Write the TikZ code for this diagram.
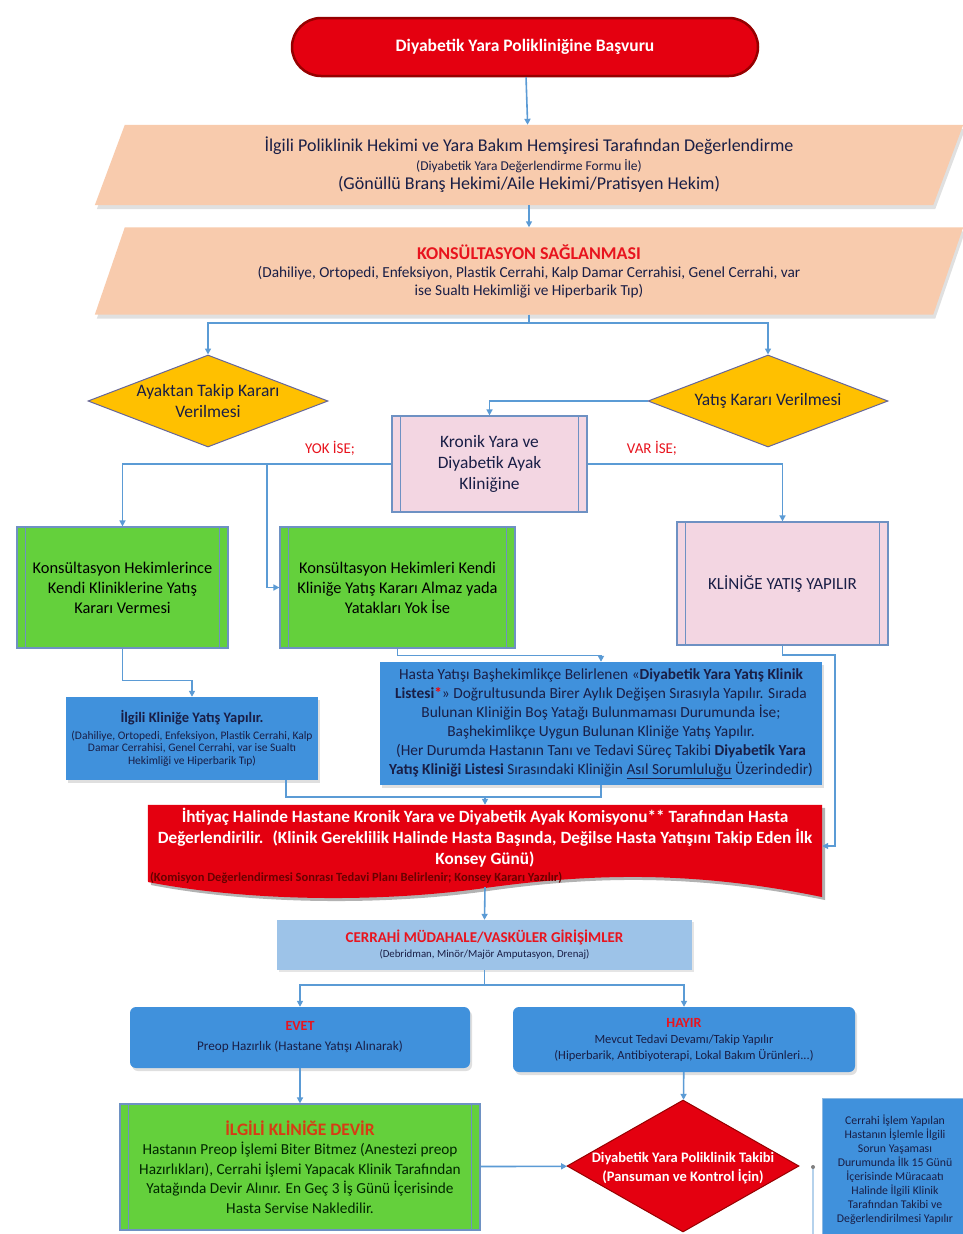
\documentclass[tikz,border=0pt]{standalone}
\usepackage{fontspec}
\setmainfont{Carlito}
\usetikzlibrary{arrows.meta,shapes.geometric,backgrounds,shadows}
\definecolor{lineblue}{RGB}{91,155,213}
\definecolor{peach}{RGB}{248,203,173}
\definecolor{redbox}{RGB}{228,0,16}
\definecolor{darkred}{RGB}{150,0,0}
\definecolor{deepred}{RGB}{105,0,0}
\definecolor{goldy}{RGB}{255,192,0}
\definecolor{pinky}{RGB}{243,214,226}
\definecolor{greeny}{RGB}{100,208,60}
\definecolor{bluey}{RGB}{64,145,220}
\definecolor{lightbluey}{RGB}{157,195,232}
\definecolor{navy}{RGB}{25,30,70}
\definecolor{titlered}{RGB}{232,20,30}
\definecolor{edgeblue}{RGB}{110,145,195}
\definecolor{oranget}{RGB}{215,60,20}

\begin{document}
\begin{tikzpicture}[x=1pt,y=-1pt,
  conn/.style={draw=lineblue, line width=1.6pt},
  arr/.style={conn, -{Triangle[length=6pt,width=6pt]}},
  startbox/.style={rectangle, rounded corners=29pt, draw=darkred, line width=2.5pt, fill=redbox, text=white,
    font=\fontsize{17.5}{20}\selectfont\bfseries, minimum width=466pt, minimum height=58pt},
  parabox/.style={rectangle, minimum width=868pt, inner sep=0pt, align=center, text=navy},
  diam/.style={diamond, draw=gray!80!blue, line width=1pt, fill=goldy, minimum width=240pt, minimum height=92pt, inner sep=0pt},
  dtext/.style={align=center, font=\fontsize{17.5}{21}\selectfont, text=navy},
  procbox/.style={rectangle, draw=edgeblue, line width=1.2pt, align=center, inner sep=0pt, text=navy},
  bluebox/.style={rectangle, fill=bluey, align=center, inner sep=0pt, text=navy,
    drop shadow={shadow xshift=2pt, shadow yshift=-3pt, opacity=0.25}},
  barline/.style={draw=edgeblue, line width=1.2pt},
  redlabel/.style={text=titlered, font=\fontsize{15}{17}\selectfont}
]
\useasboundingbox (0,0) rectangle (963,1234);
\begin{scope}[on background layer]
  \fill[white] (0,0) rectangle (963,1234);
\end{scope}

\node (basvuru) at (525,47) [startbox] {Diyabetik Yara Polikliniğine Başvuru};

\node (deger) at (529,165) [parabox, minimum height=80pt, font=\fontsize{18}{19}\selectfont]
  {İlgili Poliklinik Hekimi ve Yara Bakım Hemşiresi Tarafından Değerlendirme\\
   {\fontsize{13.5}{15}\selectfont (Diyabetik Yara Değerlendirme Formu İle)}\\
   (Gönüllü Branş Hekimi/Aile Hekimi/Pratisyen Hekim)};
\node (konsul) at (529,271) [parabox, minimum height=87pt, font=\fontsize{15.3}{18}\selectfont]
  {{\fontsize{18}{20}\selectfont\color{titlered}\bfseries KONSÜLTASYON SAĞLANMASI}\\
   (Dahiliye, Ortopedi, Enfeksiyon, Plastik Cerrahi, Kalp Damar Cerrahisi, Genel Cerrahi, var\\
   ise Sualtı Hekimliği ve Hiperbarik Tıp)};
\begin{scope}[on background layer]
  \foreach \n in {deger,konsul}{
    \fill[black, opacity=0.12] ([xshift=32pt,yshift=-4pt]\n.north west) -- ([xshift=2pt,yshift=-4pt]\n.north east)
      -- ([xshift=-28pt,yshift=-4pt]\n.south east) -- ([xshift=2pt,yshift=-4pt]\n.south west) -- cycle;
    \fill[peach] ([xshift=30pt]\n.north west) -- (\n.north east) -- ([xshift=-30pt]\n.south east) -- (\n.south west) -- cycle;
  }
\end{scope}

\node (ayaktan) at (208,401) [diam] {};
\node (ayaktan-t) at (208,401) [dtext] {Ayaktan Takip Kararı\\Verilmesi};
\node (yatis) at (768,401) [diam] {};
\node (yatis-t) at (768,401) [dtext] {Yatış Kararı Verilmesi};

\node (kronik) at (489.5,464) [procbox, fill=pinky, minimum width=195pt, minimum height=96pt,
  font=\fontsize{17.4}{21}\selectfont] {Kronik Yara ve\\Diyabetik Ayak\\Kliniğine};
\node (yok) at (330,448) [redlabel] {YOK İSE;};
\node (var) at (652,448) [redlabel] {VAR İSE;};

\node (kons1) at (122.5,587.5) [procbox, fill=greeny, minimum width=211pt, minimum height=121pt,
  font=\fontsize{16.4}{20}\selectfont, text=black] {Konsültasyon Hekimlerince\\Kendi Kliniklerine Yatış\\Kararı Vermesi};
\node (kons2) at (397.5,587.5) [procbox, fill=greeny, minimum width=235pt, minimum height=121pt,
  font=\fontsize{16.4}{20}\selectfont, text=black] {Konsültasyon Hekimleri Kendi\\Kliniğe Yatış Kararı Almaz yada\\Yatakları Yok İse};
\node (klinik) at (782.5,583.5) [procbox, fill=pinky, minimum width=211pt, minimum height=123pt,
  font=\fontsize{17}{19}\selectfont] {KLİNİĞE YATIŞ YAPILIR};

\node (ilgili) at (192,738.5) [bluebox, minimum width=252pt, minimum height=83pt, font=\fontsize{11.5}{12.5}\selectfont]
  {{\fontsize{14.5}{16}\selectfont\bfseries İlgili Kliniğe Yatış Yapılır.}\\[4pt]
   (Dahiliye, Ortopedi, Enfeksiyon, Plastik Cerrahi, Kalp\\
   Damar Cerrahisi, Genel Cerrahi, var ise Sualtı\\ Hekimliği ve Hiperbarik Tıp)};
\node (hasta) at (601,723.5) [bluebox, minimum width=442pt, minimum height=123pt, font=\fontsize{15.4}{19}\selectfont]
  {Hasta Yatışı Başhekimlikçe Belirlenen «\textbf{Diyabetik Yara Yatış Klinik}\\
   \textbf{Listesi}\textcolor{red}{\textbf{*}}» Doğrultusunda Birer Aylık Değişen Sırasıyla Yapılır. Sırada\\
   Bulunan Kliniğin Boş Yatağı Bulunmaması Durumunda İse;\\
   Başhekimlikçe Uygun Bulunan Kliniğe Yatış Yapılır.\\
   (Her Durumda Hastanın Tanı ve Tedavi Süreç Takibi \textbf{Diyabetik Yara}\\
   \textbf{Yatış Kliniği Listesi} Sırasındaki Kliniğin \underline{Asıl Sorumluluğu} Üzerindedir)};

\node (komisyon) at (485,846) [rectangle, minimum width=674pt, minimum height=82pt, inner sep=0pt, align=center,
  text=white, font=\fontsize{17.2}{21}\selectfont\bfseries]
  {İhtiyaç Halinde Hastane Kronik Yara ve Diyabetik Ayak Komisyonu** Tarafından Hasta\\
   Değerlendirilir. \ (Klinik Gereklilik Halinde Hasta Başında, Değilse Hasta Yatışını Takip Eden İlk\\
   Konsey Günü)\\[-4pt]
   \makebox[670pt][l]{\fontsize{12.5}{14}\selectfont\color{deepred}(Komisyon Değerlendirmesi Sonrası Tedavi Planı Belirlenir; Konsey Kararı Yazılır)}};
\begin{scope}[on background layer]
  \fill[black, opacity=0.3] ([xshift=3pt,yshift=-3pt]komisyon.north west) -- ([xshift=3pt,yshift=-3pt]komisyon.north east)
    -- (825,900) .. controls (700,875) and (600,875) .. (488,891) .. controls (373,907) and (243,903) .. (151,885) -- cycle;
  \fill[redbox] (komisyon.north west) -- (komisyon.north east) -- (822,897)
    .. controls (700,872) and (600,872) .. (485,888) .. controls (370,904) and (240,900) .. (148,882) -- cycle;
\end{scope}

\node (cerrahi) at (484.5,945) [rectangle, fill=lightbluey, minimum width=415pt, minimum height=50pt, inner sep=0pt,
  align=center, text=navy, font=\fontsize{10.8}{15}\selectfont,
  drop shadow={shadow xshift=2pt, shadow yshift=-2pt, opacity=0.2}]
  {{\fontsize{15}{17}\selectfont\color{titlered}\bfseries CERRAHİ MÜDAHALE/VASKÜLER GİRİŞİMLER}\\
   (Debridman, Minör/Majör Amputasyon, Drenaj)};

\node (evet) at (300,1037.5) [bluebox, rounded corners=6pt, minimum width=340pt, minimum height=61pt,
  font=\fontsize{13.2}{20}\selectfont]
  {{\fontsize{14}{16}\selectfont\color{titlered}\bfseries EVET}\\
   Preop Hazırlık (Hastane Yatışı Alınarak)};
\node (hayir) at (684,1039.5) [bluebox, rounded corners=6pt, minimum width=342pt, minimum height=65pt,
  font=\fontsize{12.5}{15.5}\selectfont]
  {{\fontsize{14}{16}\selectfont\color{titlered}\bfseries HAYIR}\\[1pt]
   Mevcut Tedavi Devamı/Takip Yapılır\\
   (Hiperbarik, Antibiyoterapi, Lokal Bakım Ürünleri...)};

\node (devir) at (300,1167) [procbox, fill=greeny, minimum width=360pt, minimum height=126pt, text=black!85!green,
  font=\fontsize{15.3}{19.5}\selectfont]
  {{\fontsize{17.5}{20}\selectfont\color{oranget}\bfseries İLGİLİ KLİNİĞE DEVİR}\\
   Hastanın Preop İşlemi Biter Bitmez (Anestezi preop\\
   Hazırlıkları), Cerrahi İşlemi Yapacak Klinik Tarafından\\
   Yatağında Devir Alınır. En Geç 3 İş Günü İçerisinde\\
   Hasta Servise Nakledilir.};

\node (takip) at (683,1166) [diamond, fill=redbox, draw=darkred, line width=1pt, minimum width=232pt, minimum height=132pt, inner sep=0pt] {};
\node (takip-t) at (683,1168) [align=center, text=white, font=\fontsize{14.5}{19}\selectfont\bfseries]
  {Diyabetik Yara Poliklinik Takibi\\(Pansuman ve Kontrol İçin)};

\node (sonra) at (895,1170) [bluebox, draw=lineblue!70, line width=1pt, minimum width=146pt, minimum height=144pt,
  font=\fontsize{11.8}{14}\selectfont]
  {Cerrahi İşlem Yapılan\\Hastanın İşlemle İlgili\\Sorun Yaşaması\\Durumunda İlk 15 Günü\\İçerisinde Müracaatı\\
   Halinde İlgili Klinik\\Tarafından Takibi ve\\Değerlendirilmesi Yapılır};

\foreach \n in {kronik,kons1,kons2,klinik,devir}
  \draw[barline] ([xshift=9pt]\n.north west) -- ([xshift=9pt]\n.south west)
                 ([xshift=-9pt]\n.north east) -- ([xshift=-9pt]\n.south east);

\draw[arr] (basvuru) -- (deger);
\draw[arr] (deger) -- (konsul);
\draw[conn] (konsul.south) -- ++(0,8) coordinate (k1);
\draw[arr] (k1) -| (ayaktan.north);
\draw[arr] (k1) -| (yatis.north);
\draw[arr] (yatis.west) -| (kronik.north);
\draw[arr] (kronik.west) -| (kons1.north);
\coordinate (b1) at (267,464);
\draw[arr] (b1) |- (kons2.west);
\draw[arr] (kronik.east) -| (klinik.north);
\draw[arr] (kons1.south) -- ++(0,32) -| (ilgili.north);
\draw[arr] (kons2.south) -- ++(0,7) -| (hasta.north);
\draw[arr] (klinik.south) |- (835,655) |- (komisyon.east);
\coordinate (j1) at (485,797);
\draw[arr] ([xshift=94pt]ilgili.south) |- (j1) -- (komisyon.north);
\draw[conn] (hasta.south) |- (j1);
\draw[arr] (komisyon.south) -- (cerrahi.north);
\draw[conn] (cerrahi.south) -- ++(0,15) coordinate (j2);
\draw[arr] (j2) -| (evet.north);
\draw[arr] (j2) -| (hayir.north);
\draw[arr] (evet) -- (devir);
\draw[arr] (hayir) -- (takip);
\draw[arr] (devir) -- (takip);
\coordinate (d0) at (813,1167);
\coordinate (d1) at (813,1234);
\draw[draw=lineblue!45, line width=1.2pt] (d0) -- (d1);
\fill[gray] (d0) circle (2pt);
\end{tikzpicture}
\end{document}
